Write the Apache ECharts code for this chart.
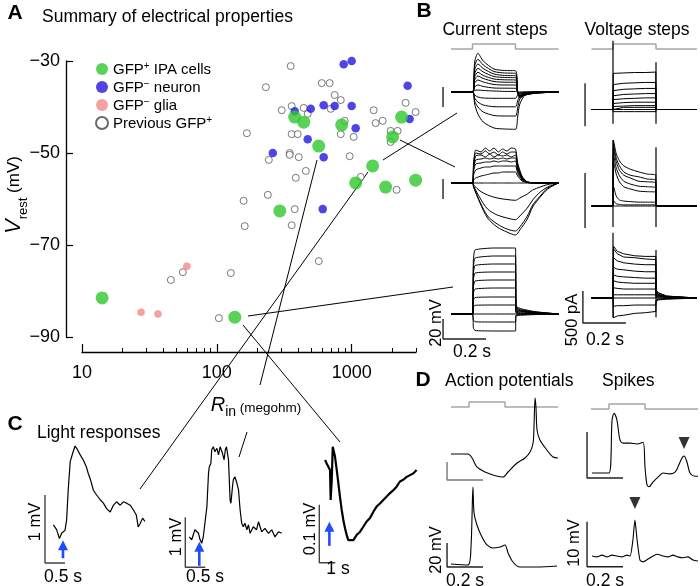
<!DOCTYPE html>
<html>
<head>
<meta charset="utf-8">
<title>Summary of electrical properties</title>
<script src="https://cdn.jsdelivr.net/npm/echarts@6/dist/echarts.min.js"></script>
<style>
  html, body { margin: 0; padding: 0; background: #fff; }
  #chart { width: 700px; height: 586px; }
</style>
</head>
<body>
<div id="chart"></div>
<script>
// ---- A: scatter, [Rin (megohm), Vrest (mV)] ----
const gfpIpa = [[378,-42.2],[441,-43.3],[570,-48.5],[843,-43.9],[2013,-46.5],[2346,-42.2],[1431,-52.8],
  [1071,-56.5],[1786,-57.4],[2980,-55.9],[293,-62.6],[14.1,-81.5],[136,-85.7]];
const gfpNegNeuron = [[873,-30.7],[1000,-30.0],[2600,-35.4],[378,-40.9],[497,-40.4],[620,-39.6],[748,-39.8],
  [1000,-39.8],[1071,-44.6],[472,-47.0],[260,-50.0],[620,-50.9],[610,-62.2],[2690,-42.6]];
const gfpNegGlia = [[60,-74.6],[27.4,-84.6],[36.6,-85.0]];
const previousGfp = [[353,-31.1],[231,-35.7],[600,-34.8],[687,-34.8],[748,-37.4],[830,-38.5],[303,-40.7],
  [359,-39.8],[441,-40.2],[472,-41.5],[699,-40.4],[888,-43.0],[1456,-40.7],[1506,-43.5],[1698,-43.0],
  [2512,-39.1],[2980,-41.1],[1945,-45.2],[2191,-45.2],[1945,-47.6],[167,-45.7],[359,-45.9],[398,-45.9],
  [830,-45.9],[1035,-46.5],[243,-51.5],[347,-50.0],[347,-50.4],[405,-50.9],[457,-53.9],[967,-50.7],
  [385,-55.4],[1166,-55.2],[2154,-58.0],[239,-59.1],[158,-60.4],[378,-62.2],[161,-65.9],[359,-65.7],
  [570,-73.5],[45.6,-77.6],[56.0,-75.9],[127,-76.1],[103.5,-85.9]];
const xMajorTicks = [10, 100, 1000];
const xMinorTicks = [20,30,40,50,60,70,80,90,200,300,400,500,600,700,800,900,2000,3000];

// ---- B: current steps (s, mV) ----
const cmdB = [[0,0],[0.1,0],[0.1,1],[0.3,1],[0.3,0],[0.5,0]];
const tCurTop = [0, 0.1, 0.11, 0.125, 0.15, 0.2, 0.25, 0.3, 0.31, 0.32, 0.345, 0.4, 0.5];
const curTop = [
  [0,0,30,38.7,31,23,21.5,21.3,0,-6,-3,-1,0],
  [0,0,26,32.7,27,20.5,19,18.7,0,-5,-3,-1,0],
  [0,0,22,28,23.5,18,16.5,16.3,0,-5,-2.5,-1,0],
  [0,0,18,23.7,20,15.5,14.5,14.3,0,-4,-2,-1,0],
  [0,0,15,19.7,16.5,13,12.2,12,0,-3.5,-2,-0.5,0],
  [0,0,12,16,13.5,10.5,9.8,9.7,0,-3,-1.5,-0.5,0],
  [0,0,9,12,10,7.5,7,7,0,-2,-1,0,0],
  [0,0,5,7,5.5,4,3.8,3.7,0,-1,-0.5,0,0],
  [0,0,1.5,2,1.5,1,0.6,0.5,0,0,0,0,0],
  [0,0,-3,-5,-6,-6.3,-6.3,-6.3,-3,-1,0,0,0],
  [0,0,-6,-10,-13,-14.7,-14.8,-14.8,-9,-4,-1,0,0],
  [0,0,-9,-15,-20,-23.5,-24,-24,-16,-7,-2,-0.5,0],
  [0,0,-12,-22,-30,-36,-37,-37.3,-25,-12,-3,-0.5,0]
];
const tCurMidDep = [0, 0.1, 0.105, 0.115, 0.14, 0.16, 0.18, 0.2, 0.22, 0.24, 0.26, 0.28, 0.3, 0.31, 0.33, 0.355, 0.4, 0.5];
const curMidDep = [
  [0,0,20,33,31,35,32,35,31,34,32,35,34,20,7,1,0,0],
  [0,0,18,30,29,32,29,31,28,31,29,31,31,18,6,1,0,0],
  [0,0,16,27,28,26,29,26,28,27,28,26,28,16,5,1,0,0],
  [0,0,14,23,24,25,24,25,24,25,24,25,25,14,5,1,0,0],
  [0,0,12,19,20,21,21,22,21,22,22,21,22,12,4,0.5,0,0],
  [0,0,8,13,15,16,16,17,17,17,17,17,17,10,3,0.5,0,0],
  [0,0,3,5,7,8,9,10,10,11,11,11,11,7,2,0.5,0,0],
  [0,0,0,0,0,0,0,0,0,0,0,0,0,0,0,0,0,0]
];
const tCurMidHyp = [0, 0.1, 0.105, 0.135, 0.17, 0.215, 0.26, 0.3, 0.32, 0.355, 0.38, 0.415, 0.45, 0.5];
const curMidHyp = [
  [0,0,-2,-8,-12,-15,-16.5,-17.3,-15,-11,-7,-4,-1.5,0],
  [0,0,-3,-15,-26,-32,-35,-36.7,-33,-25,-17,-9,-4,0],
  [0,0,-4,-19,-33,-41,-46,-48,-44,-33,-22,-13,-5,0],
  [0,0,-4,-20,-35,-44,-49,-52,-47,-36,-24,-14,-6,0]
];
const tCurBot = [0, 0.1, 0.104, 0.112, 0.2, 0.3, 0.302, 0.33, 0.4, 0.5];
const curBot = [
  [0,0,53,64,66,66,8,5,2,0],
  [0,0,46,56,58,58,7,4,2,0],
  [0,0,40,48.5,50,50,6,3.5,1.5,0],
  [0,0,34,41,42,42,5,3,1,0],
  [0,0,27,33,34,34,4,2.5,1,0],
  [0,0,21,25,26,26,3,2,1,0],
  [0,0,14,16.5,17,17,2,1,0.5,0],
  [0,0,7,8.7,9,9,1,0.6,0.3,0],
  [0,0,0,0,0,0,0,0,0,0],
  [0,0,-6,-7.8,-8,-8,-1,-0.5,-0.2,0],
  [0,0,-14,-16.5,-17,-17,-2,-1.2,-0.5,0]
];

// ---- B: voltage steps (s, nA) ----
const cmdV = [[0,0],[0.1,0],[0.1,1],[0.3,1],[0.3,0],[0.49,0]];
const tVolTop = [0, 0.1, 0.101, 0.15, 0.2, 0.25, 0.299, 0.3, 0.32, 0.49];
const volTop = [
  [0,0,0.84,0.85,0.86,0.86,0.87,0,0,0],
  [0,0,0.58,0.61,0.62,0.63,0.63,0,0,0],
  [0,0,0.44,0.47,0.48,0.49,0.49,0,0,0],
  [0,0,0.32,0.35,0.36,0.37,0.37,0,0,0],
  [0,0,0.23,0.25,0.26,0.27,0.27,0,0,0],
  [0,0,0.14,0.16,0.17,0.17,0.17,0,0,0],
  [0,0,0.07,0.08,0.09,0.09,0.09,0,0,0],
  [0,0,0.04,0.05,0.05,0.05,0.05,0,0,0],
  [0,0,0,0,0,0,0,0,0,0],
  [0,0,-0.05,-0.05,-0.05,-0.05,-0.05,0,0,0]
];
const volTopTransients = [[[0.1,-0.33],[0.1,1.6]], [[0.3,-0.33],[0.3,1.1]]];
const tVolMid = [0, 0.1, 0.102, 0.115, 0.13, 0.15, 0.18, 0.22, 0.26, 0.299, 0.3, 0.49];
const volMid = [
  [0,0,1.2,0.95,0.82,0.73,0.67,0.62,0.58,0.56,0,0],
  [0,0,1.13,0.87,0.73,0.62,0.56,0.53,0.49,0.47,0,0],
  [0,0,1.05,0.8,0.65,0.56,0.51,0.45,0.44,0.42,0,0],
  [0,0,0.95,0.69,0.55,0.45,0.4,0.36,0.35,0.33,0,0],
  [0,0,0.82,0.58,0.44,0.35,0.31,0.27,0.26,0.25,0,0],
  [0,0,0.36,0.18,0.11,0.09,0.08,0.07,0.07,0.07,0,0],
  [0,0,0.1,0.04,0.03,0.02,0.02,0.02,0.02,0.02,0,0],
  [0,0,0,0,0,0,0,0,0,0,0,0]
];
const volMidTransients = [[[0.1,-0.38],[0.1,1.2]], [[0.3,-0.38],[0.3,1.07]]];
const tVolBot = [0, 0.1, 0.102, 0.12, 0.15, 0.2, 0.25, 0.299, 0.3, 0.31, 0.35, 0.49];
const volBot = [
  [0,0,0.81,0.73,0.69,0.66,0.65,0.65,0.13,0.08,0.03,0],
  [0,0,0.77,0.69,0.64,0.63,0.61,0.6,0.11,0.08,0.03,0],
  [0,0,0.63,0.58,0.55,0.53,0.52,0.52,0.09,0.06,0.02,0],
  [0,0,0.48,0.45,0.44,0.42,0.41,0.41,0.08,0.05,0.02,0],
  [0,0,0.36,0.34,0.33,0.32,0.31,0.31,0.06,0.04,0.02,0],
  [0,0,0.27,0.25,0.24,0.23,0.23,0.23,0.05,0.03,0.01,0],
  [0,0,0.16,0.15,0.14,0.14,0.14,0.14,0.03,0.02,0.01,0],
  [0,0,0.05,0.05,0.05,0.05,0.05,0.05,0.01,0,0,0],
  [0,0,0,0,0,0,0,0,0,0,0,0],
  [0,0,-0.13,-0.12,-0.12,-0.11,-0.11,-0.11,-0.03,-0.02,-0.01,0],
  [0,0,-0.31,-0.28,-0.27,-0.24,-0.23,-0.21,-0.06,-0.03,-0.02,0]
];
const volBotTransients = [[[0.1,-0.31],[0.1,1.02]], [[0.3,-0.3],[0.3,0.75]]];

// ---- C: light responses (s, mV) ----
const light1 = [[0.21,0.56],[0.29,0.49],[0.36,0.36],[0.42,0.44],[0.5,0.48],[0.54,0.63],[0.58,1.07],[0.63,1.49],
  [0.69,1.61],[0.75,1.72],[0.81,1.67],[0.88,1.59],[0.96,1.51],[1.03,1.42],[1.08,1.32],[1.14,1.22],[1.21,1.07],
  [1.29,1.0],[1.38,0.93],[1.46,0.88],[1.54,0.8],[1.63,0.75],[1.71,0.85],[1.79,0.9],[1.88,0.85],[1.96,0.9],
  [2.04,0.88],[2.13,0.85],[2.21,0.78],[2.28,0.71],[2.33,0.53],[2.38,0.58],[2.44,0.66],[2.5,0.61]];
const light2 = [[0.10,0.61],[0.16,0.55],[0.20,0.65],[0.24,0.75],[0.29,0.78],[0.33,0.68],[0.37,0.55],[0.41,0.48],
  [0.45,0.61],[0.49,0.88],[0.54,1.21],[0.58,1.88],[0.60,2.01],[0.64,2.08],[0.66,2.35],[0.70,2.41],[0.74,2.31],
  [0.79,2.38],[0.83,2.25],[0.87,2.41],[0.91,2.45],[0.93,2.28],[0.97,2.15],[1.00,2.35],[1.03,2.41],[1.08,2.15],
  [1.12,1.35],[1.14,1.28],[1.18,1.61],[1.20,1.75],[1.24,1.81],[1.29,1.68],[1.33,1.55],[1.37,1.15],[1.41,0.88],
  [1.45,0.81],[1.49,0.88],[1.54,0.75],[1.58,0.85],[1.62,0.68],[1.70,0.81],[1.78,0.75],[1.83,0.91],[1.91,0.71],
  [1.99,0.78],[2.08,0.68],[2.16,0.75],[2.24,0.61],[2.33,0.71],[2.41,0.68]];
const light3 = [[0.36,0.177],[0.46,0.171],[0.56,0.174],[0.67,0.160],[0.71,0.108],[0.78,0.143],[0.84,0.200],
  [0.88,0.203],[0.98,0.183],[1.09,0.160],[1.19,0.137],[1.29,0.114],[1.40,0.091],[1.50,0.074],[1.61,0.059],
  [1.71,0.048],[1.81,0.039],[1.92,0.036],[2.13,0.039],[2.34,0.048],[2.54,0.053],[2.75,0.062],[2.96,0.071],
  [3.17,0.077],[3.38,0.088],[3.59,0.097],[3.79,0.102],[4.00,0.108],[4.21,0.114],[4.42,0.120],[4.63,0.125],
  [4.83,0.131],[5.04,0.140],[5.25,0.143],[5.46,0.148],[5.67,0.151],[5.88,0.154],[6.08,0.160]];
const lightArrows = [[[0.45,0.07],[0.45,0.26]], [[0.35,0.03],[0.35,0.41]], [[0.63,0.029],[0.63,0.062]]];

// ---- D: action potentials and spikes (s, mV) ----
const cmdD = [[0,0],[0.1,0],[0.1,1],[0.3,1],[0.3,0],[0.595,0]];
const apTop = [[0,0],[0.094,0],[0.117,-4.4],[0.144,-14.4],[0.189,-20],[0.233,-23.3],[0.289,-25.6],[0.317,-20],
  [0.367,-10],[0.411,-4.4],[0.439,2.2],[0.456,12.2],[0.461,30],[0.467,62.2],[0.472,52.2],[0.478,26.7],
  [0.494,15.6],[0.533,4.4],[0.567,-3.3],[0.594,-4.4]];
const apBot = [[0,0.8],[0.094,0],[0.111,15],[0.122,65],[0.128,43.3],[0.144,33.3],[0.172,23.3],[0.2,16.7],
  [0.233,14.2],[0.272,15],[0.3,16.7],[0.317,10],[0.344,2.5],[0.383,-1.7],[0.478,-1.7],[0.589,-0.8]];
const spikeTop = [[0.006,0],[0.1,0],[0.117,11.5],[0.128,13],[0.144,11.5],[0.161,7.2],[0.178,6.5],[0.217,6.5],
  [0.256,6.3],[0.289,6.7],[0.3,1.3],[0.311,-2.6],[0.322,-3.0],[0.344,-2.0],[0.372,-0.9],[0.4,0],[0.439,-0.2],
  [0.467,0.2],[0.483,1.3],[0.506,3.3],[0.517,3.7],[0.533,2.4],[0.55,0],[0.578,-0.7],[0.594,-0.7]];
const spikeBot = [[0.006,0],[0.033,-0.2],[0.061,0.2],[0.089,-0.2],[0.117,0.2],[0.144,0],[0.172,-0.2],[0.2,0.2],
  [0.217,0],[0.233,3.6],[0.244,8.0],[0.256,3.6],[0.272,-0.9],[0.289,-1.3],[0.328,-0.4],[0.367,0.4],[0.4,0],
  [0.428,-0.2],[0.456,0.2],[0.483,-0.2],[0.511,-0.4],[0.539,-0.2],[0.567,-0.9],[0.594,-1.1]];
const spikeMarks = [[0.517,6.5], [0.244,11.8]];

const FONT = '"Liberation Sans", Arial, Helvetica, sans-serif';
const W = 700, H = 586;
const chart = echarts.init(document.getElementById('chart'), null, {renderer: 'canvas'});

const grids = [{left: 82, top: 61, width: 334, height: 276}];
const xAxes = [
  {type: 'log', logBase: 10, gridIndex: 0, min: 10, max: 3000, position: 'bottom', offset: 15,
    axisLine: {onZero: false, lineStyle: {color: '#000', width: 1.3}},
    axisTick: {show: false}, axisLabel: {show: false}, splitLine: {show: false}},
  {type: 'value', gridIndex: 0, min: 1, max: Math.log10(3000), position: 'bottom', offset: 15,
    axisLine: {show: false}, splitLine: {show: false},
    axisTick: {inside: true, length: 8, customValues: xMajorTicks.map(Math.log10), lineStyle: {color: '#000', width: 1.2}},
    axisLabel: {customValues: xMajorTicks.map(Math.log10), formatter: v => String(Math.round(Math.pow(10, v))),
      color: '#000', fontSize: 18, fontFamily: FONT, margin: 12}},
  {type: 'value', gridIndex: 0, min: 1, max: Math.log10(3000), position: 'bottom', offset: 15,
    axisLine: {show: false}, splitLine: {show: false}, axisLabel: {show: false},
    axisTick: {inside: true, length: 4, customValues: xMinorTicks.map(Math.log10), lineStyle: {color: '#000', width: 1}}}
];
const yAxes = [
  {type: 'value', gridIndex: 0, min: -90, max: -30, interval: 20, position: 'left', offset: 16,
    axisLine: {lineStyle: {color: '#000', width: 1.3}},
    axisTick: {inside: true, length: 7, lineStyle: {color: '#000', width: 1.2}},
    axisLabel: {color: '#000', fontSize: 18, fontFamily: FONT, margin: 6, formatter: v => String(v).replace('-', '\u2212')},
    splitLine: {show: false}}
];
const series = [];

function scatter(name, data, size, itemStyle, z) {
  series.push({name, type: 'scatter', xAxisIndex: 0, yAxisIndex: 0, data, symbolSize: size,
    itemStyle, clip: false, z, animation: false});
}
scatter('Previous GFP+', previousGfp, 7, {color: '#fff', borderColor: '#444', borderWidth: 0.9}, 2);
scatter('GFP\u2212 glia', gfpNegGlia, 7.5, {color: '#f38a8a'}, 3);
scatter('GFP\u2212 neuron', gfpNegNeuron, 8.5, {color: '#2316e0'}, 4);
scatter('GFP+ IPA cells', gfpIpa, 13, {color: '#2ec82e'}, 5);

// every trace panel gets a full-canvas grid; origin is the pixel of (0,0), scale is px per unit
function addCell(origin, scale) {
  const [ox, oy] = origin, [sx, sy] = scale;
  const g = grids.length;
  grids.push({left: 0, top: 0, width: W, height: H});
  xAxes.push({type: 'value', gridIndex: g, min: -ox / sx, max: (W - ox) / sx, show: false});
  yAxes.push({type: 'value', gridIndex: g, min: (oy - H) / sy, max: oy / sy, show: false});
  return {xAxisIndex: xAxes.length - 1, yAxisIndex: yAxes.length - 1};
}
function line(cell, data, color, width, extra) {
  series.push(Object.assign({type: 'line', xAxisIndex: cell.xAxisIndex, yAxisIndex: cell.yAxisIndex,
    data, symbol: 'none', showSymbol: false, silent: true, animation: false, z: 3,
    lineStyle: {color, width}}, extra || {}));
}
function family(cell, t, rows, opt) {
  rows.forEach(r => line(cell, t.map((x, k) => [x, r[k]]), '#000', 1, opt));
}
function bar(cell, t0, v0, dv, dt, color) {
  const pts = [[t0, v0 + dv], [t0, v0]];
  if (dt) pts.push([t0 + dt, v0]);
  line(cell, pts, color || '#222', 1.4);
}

// B: current steps
const cB0 = addCell([451, 49], [215, 5]);
line(cB0, cmdB, '#a6a6a6', 1.5);
const cB1 = addCell([451, 92], [215, 1]);
family(cB1, tCurTop, curTop, {smooth: 0.25});
bar(cB1, -0.037, -15, 20);
const cB2 = addCell([451, 183], [215, 1]);
family(cB2, tCurMidDep, curMidDep, {smooth: 0.2});
family(cB2, tCurMidHyp, curMidHyp, {smooth: 0.3});
bar(cB2, -0.037, -16, 20);
const cB3 = addCell([451, 314], [215, 1]);
family(cB3, tCurBot, curBot, {smooth: 0.15});
bar(cB3, -0.037, -25, 20, 0.2);

// B: voltage steps
const cV0 = addCell([591.5, 49], [215, 5]);
line(cV0, cmdV, '#a6a6a6', 1.5);
const cV1 = addCell([591.5, 109.5], [215, 43]);
family(cV1, tVolTop, volTop);
volTopTransients.forEach(d => line(cV1, d, '#000', 1.2));
bar(cV1, -0.03, -0.39, 1);
const cV2 = addCell([591.5, 206], [215, 55]);
family(cV2, tVolMid, volMid, {smooth: 0.2});
volMidTransients.forEach(d => line(cV2, d, '#000', 1.2));
bar(cV2, -0.03, -0.4, 1);
const cV3 = addCell([591.5, 298], [215, 64]);
family(cV3, tVolBot, volBot);
volBotTransients.forEach(d => line(cV3, d, '#000', 1.2));
bar(cV3, -0.04, -0.39, 0.5, 0.2);

// C: light responses
const arrowStyle = (cell, d) => line(cell, [d[0], {value: d[1], symbol: 'triangle', symbolSize: [10, 10]}],
  '#1f4cff', 2.6, {showSymbol: true, itemStyle: {color: '#1f4cff'}, z: 4});
const cC1 = addCell([45, 563], [40, 68]);
line(cC1, light1, '#000', 1.2);
bar(cC1, 0, 0, 1, 0.5, '#444');
arrowStyle(cC1, lightArrows[0]);
const cC2 = addCell([185.3, 567.3], [40, 50]);
line(cC2, light2, '#000', 1.2);
bar(cC2, 0, 0, 1, 0.5, '#444');
arrowStyle(cC2, lightArrows[1]);
const cC3 = addCell([319.3, 562.7], [16, 580]);
line(cC3, light3, '#000', 2.2);
bar(cC3, 0, 0, 0.1, 1, '#444');
arrowStyle(cC3, lightArrows[2]);

// D: action potentials and spikes
const cD0 = addCell([451, 407], [180, 5]);
line(cD0, cmdD, '#a6a6a6', 1.5);
const cD0b = addCell([591, 409], [180, 5]);
line(cD0b, cmdD, '#a6a6a6', 1.5);
const cD1 = addCell([451, 454], [180, 0.9]);
line(cD1, apTop, '#000', 1.1, {smooth: 0.3});
bar(cD1, -0.022, -28.9, 20, 0.2, '#777');
const cD2 = addCell([451, 565], [180, 1.2]);
line(cD2, apBot, '#000', 1.1, {smooth: 0.3});
bar(cD2, -0.022, -1.7, 20, 0.2);
const cD3 = addCell([591, 473], [180, 4.6]);
line(cD3, spikeTop, '#000', 1.1, {smooth: 0.3});
bar(cD3, -0.022, -1.1, 10, 0.2);
const cD4 = addCell([591, 556], [180, 4.5]);
line(cD4, spikeBot, '#000', 1.1, {smooth: 0.2});
bar(cD4, -0.022, -2.4, 10, 0.2);
[[cD3, spikeMarks[0]], [cD4, spikeMarks[1]]].forEach(([c, p]) => series.push({
  type: 'scatter', xAxisIndex: c.xAxisIndex, yAxisIndex: c.yAxisIndex, data: [p], symbol: 'triangle',
  symbolRotate: 180, symbolSize: [11, 12], itemStyle: {color: '#000'}, silent: true, animation: false, z: 4}));

// labels and connector lines
const txt = (x, y, text, size, opt) => Object.assign({type: 'text', x, y, silent: true, z: 10,
  style: Object.assign({text, fill: '#000', font: size + 'px ' + FONT, textAlign: 'center', textVerticalAlign: 'middle'},
    (opt && opt.style) || {})}, opt && opt.rotation ? {rotation: opt.rotation} : {});
const rot = {rotation: Math.PI / 2};
const seg = (x1, y1, x2, y2) => ({type: 'line', silent: true, z: 1,
  shape: {x1, y1, x2, y2}, style: {stroke: '#000', lineWidth: 1}});

const graphic = [
  txt(15, 13, 'A', 21, {style: {font: 'bold 21px ' + FONT}}),
  txt(42, 17, 'Summary of electrical properties', 17.5, {style: {textAlign: 'left'}}),
  txt(424, 11, 'B', 21, {style: {font: 'bold 21px ' + FONT}}),
  txt(495, 30, 'Current steps', 17.5),
  txt(637, 30, 'Voltage steps', 17.5),
  txt(15, 424, 'C', 21, {style: {font: 'bold 21px ' + FONT}}),
  txt(37, 433, 'Light responses', 17.5, {style: {textAlign: 'left'}}),
  txt(423, 380, 'D', 21, {style: {font: 'bold 21px ' + FONT}}),
  txt(445, 381, 'Action potentials', 17.5, {style: {textAlign: 'left'}}),
  txt(602, 381, 'Spikes', 17.5, {style: {textAlign: 'left'}}),
  txt(436, 323, '20 mV', 16.5, rot),
  txt(472, 352, '0.2 s', 17.5),
  txt(572, 320, '500 pA', 16.5, rot),
  txt(605, 340, '0.2 s', 17.5),
  txt(35, 522, '1 mV', 16.5, rot),
  txt(63, 577, '0.5 s', 17.5),
  txt(176, 537, '1 mV', 16.5, rot),
  txt(205, 577, '0.5 s', 17.5),
  txt(310, 529, '0.1 mV', 16.5, rot),
  txt(338, 569, '1 s', 17.5),
  txt(436, 550, '20 mV', 16.5, rot),
  txt(465, 581, '0.2 s', 17.5),
  txt(574, 543, '10 mV', 16.5, rot),
  txt(605, 581, '0.2 s', 17.5),
  {type: 'text', x: 14, y: 195, rotation: Math.PI / 2, silent: true, z: 10,
    style: {text: '{v|V}{s|rest}{u| (mV)}', textAlign: 'center', textVerticalAlign: 'middle', fill: '#000',
      rich: {v: {fontFamily: FONT, fontStyle: 'italic', fontSize: 22, lineHeight: 24, verticalAlign: 'middle'},
        s: {fontFamily: FONT, fontSize: 13, lineHeight: 32, verticalAlign: 'bottom'},
        u: {fontFamily: FONT, fontSize: 17, lineHeight: 24, verticalAlign: 'middle'}}}},
  {type: 'text', x: 256, y: 405, silent: true, z: 10,
    style: {text: '{r|R}{s|in}{u| (megohm)}', textAlign: 'center', textVerticalAlign: 'middle', fill: '#000',
      rich: {r: {fontFamily: FONT, fontStyle: 'italic', fontSize: 20, lineHeight: 22, verticalAlign: 'middle'},
        s: {fontFamily: FONT, fontSize: 14, lineHeight: 29, verticalAlign: 'bottom'},
        u: {fontFamily: FONT, fontSize: 13.5, lineHeight: 20, verticalAlign: 'middle', padding: [7, 0, 0, 0]}}}},
  seg(383, 160, 457, 113),
  seg(400, 140, 455, 167),
  seg(248, 316, 453, 287),
  seg(243, 325, 340, 442),
  seg(317, 160, 260, 385),
  seg(247, 432, 239, 457),
  seg(368, 172, 140, 489)
];

const legendText = {
  'GFP+ IPA cells': '{n|GFP}{p|+}{n| IPA cells}',
  'GFP\u2212 neuron': '{n|GFP}{p|\u2212}{n| neuron}',
  'GFP\u2212 glia': '{n|GFP}{p|\u2212}{n| glia}',
  'Previous GFP+': '{n|Previous GFP}{p|+}'
};

chart.setOption({
  animation: false,
  backgroundColor: '#fff',
  grid: grids,
  xAxis: xAxes,
  yAxis: yAxes,
  legend: {
    left: 90, top: 56, orient: 'vertical', itemGap: 2, itemWidth: 12, itemHeight: 12, icon: 'circle',
    selectedMode: false,
    data: ['GFP+ IPA cells', 'GFP\u2212 neuron', 'GFP\u2212 glia', 'Previous GFP+'],
    formatter: n => legendText[n],
    textStyle: {color: '#000', fontFamily: FONT, fontSize: 15,
      rich: {n: {fontFamily: FONT, fontSize: 15, lineHeight: 16, verticalAlign: 'bottom'},
        p: {fontFamily: FONT, fontSize: 10, lineHeight: 10, verticalAlign: 'top'}}}
  },
  graphic,
  series
});
</script>
</body>
</html>
